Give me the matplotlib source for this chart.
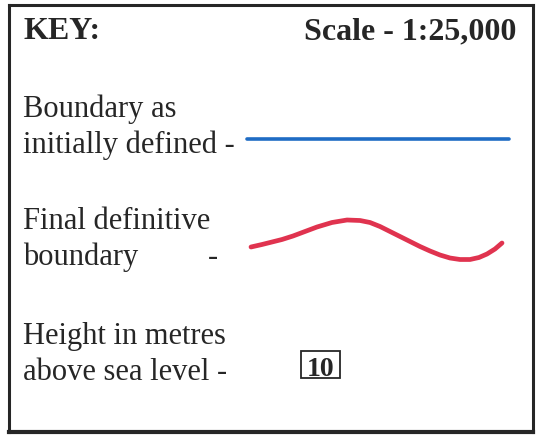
import matplotlib
matplotlib.use('Agg')
import matplotlib.pyplot as plt
from matplotlib.patches import Rectangle

# key labels (text, baseline y) in pixel coordinates of the picture
header_left = 'KEY:'
header_right = 'Scale - 1:25,000'
labels = [
    ('Boundary as', 117),
    ('initially defined -', 153),
    ('Final definitive', 229),
    ('boundary', 265),
    ('Height in metres', 344),
    ('above sea level -', 380),
]
height_value = '10'

# the blue (initial) boundary sample
blue_x = [247, 509]
blue_y = [139, 139]

# points traced along the red (final) boundary
red_x = [251, 262, 270, 282, 293, 305, 317, 332, 347, 360, 370, 380, 390,
         400, 410, 420, 430, 440, 450, 460, 470, 479, 487, 495, 502]
red_y = [247, 244.5, 242.5, 239.5, 236, 231.5, 227, 222.5, 220, 220.5, 222.5,
         226.5, 231.5, 236.5, 241.5, 246.5, 251, 255, 258, 259.5, 259.5,
         257.5, 254, 249, 243]

plt.rcParams['font.family'] = ['Liberation Serif', 'DejaVu Serif']
ink = '#262626'

fig = plt.figure(figsize=(5.4, 4.47), dpi=100)
ax = fig.add_axes([0, 0, 1, 1])
ax.set_xlim(0, 540)
ax.set_ylim(447, 0)
ax.axis('off')

# outer frame
ax.plot([9, 533], [5, 5], color=ink, lw=2.2, solid_capstyle='projecting')
ax.plot([9, 9], [5, 432], color=ink, lw=2.2, solid_capstyle='projecting')
ax.plot([533, 533], [5, 432], color=ink, lw=2.2, solid_capstyle='projecting')
ax.plot([9, 533], [432, 432], color=ink, lw=3.0, solid_capstyle='projecting')

ax.text(24, 39, header_left, fontsize=23, fontweight='bold', color=ink,
        ha='left', va='baseline')
ax.text(516, 39, header_right, fontsize=23, fontweight='bold', color=ink,
        ha='right', va='baseline')

for txt, y in labels:
    ax.text(23, y, txt, fontsize=22, color=ink, ha='left', va='baseline')
ax.text(208, 265, '-', fontsize=22, color=ink, ha='left', va='baseline')

ax.plot(blue_x, blue_y, color='#1f6cc4', lw=2.6, solid_capstyle='round')
ax.plot(red_x, red_y, color='#e0334f', lw=3.4, solid_capstyle='round',
        solid_joinstyle='round')

ax.add_patch(Rectangle((301, 351), 39, 27, fill=False, ec=ink, lw=1.3))
ax.text(320.5, 375.5, height_value, fontsize=20, fontweight='bold', color=ink,
        ha='center', va='baseline')

fig.savefig('out.png', dpi=100)
